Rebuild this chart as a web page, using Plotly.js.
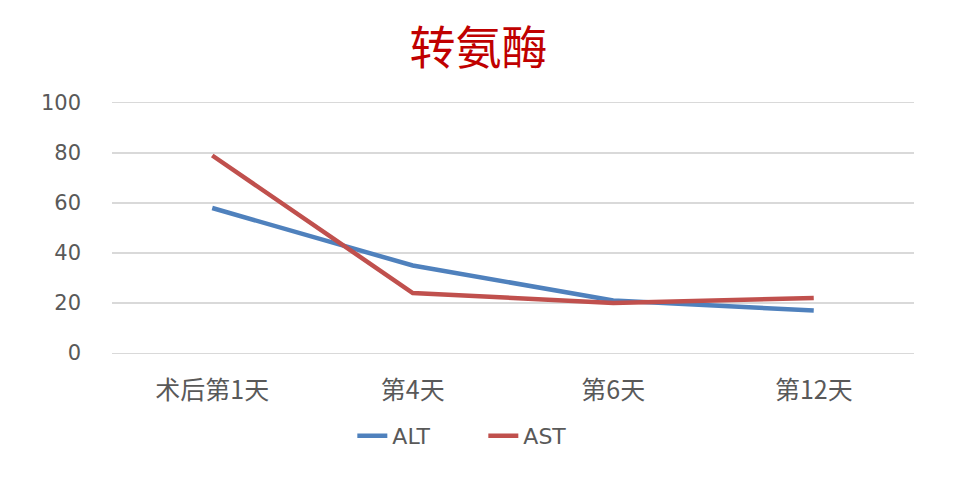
<!DOCTYPE html>
<html>
<head>
<meta charset="utf-8">
<script src="https://cdn.plot.ly/plotly-3.0.1.min.js"></script>
<style>html,body{margin:0;padding:0;background:#fff;}#chart{width:957px;height:480px;}</style>
</head>
<body>
<div id="chart"></div>
<script>
const categories = ["术后第1天", "第4天", "第6天", "第12天"];
const altValues = [58, 35, 21, 17];
const astValues = [79, 24, 20, 22];
const yTickValues = [0, 20, 40, 60, 80, 100];
const chartTitle = "转氨酶";

const baseFont = "'DejaVu Sans', 'Noto Sans CJK SC', sans-serif";

const traces = [
  {x: categories, y: altValues, name: "ALT", type: "scatter", mode: "lines",
   line: {color: "#4F81BD", width: 4.5}},
  {x: categories, y: astValues, name: "AST", type: "scatter", mode: "lines",
   line: {color: "#C0504D", width: 4.5}}
];

const layout = {
  width: 957, height: 480,
  paper_bgcolor: "#ffffff", plot_bgcolor: "#ffffff",
  margin: {l: 112, r: 43, t: 103, b: 127},
  title: {text: chartTitle, x: 0.5, xanchor: "center", xref: "container",
          y: 0.9, yref: "container", yanchor: "middle",
          font: {family: "'Noto Sans CJK SC', sans-serif", size: 46, color: "#C00000", weight: 400}},
  xaxis: {type: "category", showgrid: false, zeroline: false,
          showline: true, mirror: true, linecolor: "#D9D9D9", linewidth: 1.3,
          ticks: "", ticklabelstandoff: 15, range: [-0.5, 3.5],
          tickfont: {family: "'Noto Sans CJK SC', 'DejaVu Sans', sans-serif", size: 25, color: "#595959"}},
  yaxis: {range: [0, 100], tickvals: yTickValues, ticktext: yTickValues.map(String),
          showgrid: true, gridcolor: "#D9D9D9", gridwidth: 1.3, zeroline: false, showline: false,
          ticks: "", ticklabelstandoff: 30,
          tickfont: {family: baseFont, size: 21, color: "#595959"}},
  showlegend: true,
  legend: {orientation: "h", x: 0.463, xanchor: "center", y: -0.332, yanchor: "middle",
           entrywidth: 86, entrywidthmode: "pixels",
           font: {family: baseFont, size: 22, color: "#595959"}},
  font: {family: baseFont}
};

Plotly.newPlot("chart", traces, layout, {displayModeBar: false, staticPlot: true});
</script>
</body>
</html>
